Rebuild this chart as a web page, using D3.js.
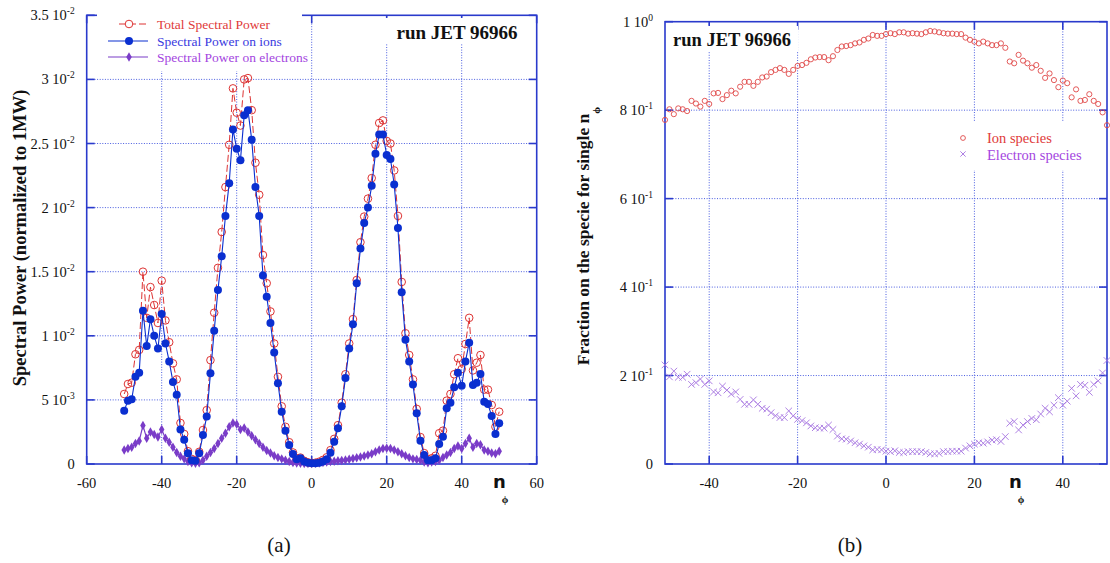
<!DOCTYPE html>
<html><head><meta charset="utf-8">
<script src="https://cdn.jsdelivr.net/npm/d3@7"></script>
<style>body{margin:0;background:#fff}text{font-family:"Liberation Serif","Times New Roman",serif}</style>
</head><body><svg id="c" width="1110" height="563"></svg>
<script>
// ---------- DATA ----------
const nPhi = d3.range(-50, 51);
// panel (a): spectral power, in units of 1e-3 (normalized to 1MW)
const totalPower = [5.46,6.24,6.34,8.56,8.9,15.0,11.4,13.8,12.4,11.0,14.3,11.2,9.5,7.85,6.6,3.2,2.34,1.0,0.4,0.3,0.95,2.65,4.2,8.1,11.8,15.3,18.1,21.6,24.9,29.3,27.4,26.4,30.0,30.1,27.6,23.5,21.0,16.3,14.1,11.9,9.4,6.8,4.5,2.9,1.7,0.9,0.45,0.5,0.25,0.13,0.08,0.1,0.18,0.32,0.52,1.08,1.96,3.03,4.78,7.0,9.4,11.3,14.35,17.3,19.3,20.7,22.3,24.9,26.6,26.8,25.2,25.0,22.9,19.35,14.2,10.2,8.5,6.6,4.3,2.1,0.85,0.4,0.45,0.64,2.4,2.6,4.94,5.46,7.0,8.25,7.4,9.36,11.4,7.3,7.9,8.5,5.8,5.8,4.6,2.9,4.08];
const ionPower = [4.16,4.94,5.05,6.81,7.12,11.96,9.2,11.3,10.0,9.0,11.7,9.4,8.0,6.4,5.4,2.7,1.9,0.83,0.3,0.25,0.83,2.26,3.7,7.07,10.4,13.57,16.2,19.35,21.9,26.1,24.6,23.7,27.2,27.6,25.3,21.6,19.35,14.7,13.05,11.0,8.7,6.3,4.08,2.6,1.48,0.78,0.37,0.44,0.2,0.1,0.05,0.05,0.1,0.2,0.37,0.88,1.74,2.78,4.5,6.7,9.0,10.9,14.1,16.8,18.8,20.0,21.7,24.2,25.7,25.7,24.1,23.8,21.8,18.4,13.4,9.7,8.0,6.2,3.95,1.82,0.7,0.3,0.3,0.44,1.56,2.13,4.34,4.78,5.98,7.12,6.1,8.0,9.46,6.16,6.34,7.02,4.86,4.68,3.74,2.34,3.17];
const elecPower = [1.1,1.2,1.3,1.6,1.8,3.0,2.0,2.5,2.3,2.1,2.7,2.0,1.7,1.3,0.9,0.6,0.4,0.2,0.1,0.05,0.1,0.3,0.6,0.9,1.2,1.6,2.0,2.4,2.9,3.2,3.1,2.7,2.8,2.5,2.2,1.9,1.6,1.3,1.05,0.85,0.65,0.5,0.4,0.3,0.2,0.12,0.08,0.05,0.04,0.03,0.03,0.05,0.08,0.12,0.15,0.2,0.22,0.25,0.28,0.32,0.37,0.42,0.48,0.55,0.62,0.7,0.8,0.95,1.1,1.2,1.22,1.2,1.1,0.95,0.8,0.65,0.5,0.4,0.35,0.3,0.15,0.1,0.15,0.2,0.3,0.5,0.7,0.9,1.2,1.4,1.2,1.6,2.0,1.3,1.6,1.5,1.1,1.0,0.85,0.8,1.0];
// panel (b): fraction on each species
const ionFraction = [0.778,0.802,0.791,0.804,0.802,0.798,0.821,0.815,0.808,0.821,0.814,0.838,0.839,0.825,0.834,0.844,0.838,0.853,0.864,0.864,0.855,0.864,0.874,0.876,0.886,0.891,0.895,0.891,0.882,0.891,0.9,0.902,0.907,0.915,0.919,0.92,0.92,0.913,0.922,0.936,0.944,0.945,0.947,0.951,0.953,0.959,0.962,0.97,0.968,0.968,0.972,0.974,0.972,0.976,0.976,0.973,0.974,0.973,0.972,0.976,0.979,0.978,0.976,0.974,0.973,0.973,0.972,0.972,0.964,0.959,0.955,0.951,0.955,0.951,0.947,0.947,0.951,0.941,0.91,0.906,0.925,0.912,0.906,0.896,0.902,0.889,0.873,0.883,0.868,0.852,0.867,0.861,0.829,0.847,0.821,0.823,0.836,0.821,0.814,0.795,0.766];
const elecFraction = [0.224,0.197,0.21,0.196,0.196,0.203,0.18,0.184,0.192,0.18,0.188,0.163,0.161,0.176,0.167,0.158,0.163,0.146,0.135,0.135,0.145,0.135,0.126,0.124,0.116,0.109,0.105,0.105,0.12,0.109,0.101,0.098,0.093,0.086,0.082,0.081,0.081,0.088,0.078,0.063,0.057,0.056,0.052,0.048,0.045,0.041,0.038,0.032,0.033,0.032,0.029,0.028,0.03,0.026,0.026,0.028,0.028,0.028,0.028,0.026,0.023,0.023,0.024,0.028,0.028,0.029,0.029,0.029,0.036,0.041,0.045,0.048,0.047,0.05,0.054,0.055,0.051,0.062,0.092,0.096,0.077,0.088,0.096,0.103,0.1,0.113,0.126,0.118,0.133,0.15,0.133,0.142,0.171,0.154,0.18,0.178,0.162,0.18,0.188,0.206,0.234];
// ticks
const xTicksA = [-60,-40,-20,0,20,40,60];
const yTicksA = [0,0.005,0.01,0.015,0.02,0.025,0.03,0.035];
const yLabelsA = [["0",""],["5 10","-3"],["1 10","-2"],["1.5 10","-2"],["2 10","-2"],["2.5 10","-2"],["3 10","-2"],["3.5 10","-2"]];
const xTicksB = [-40,-20,0,20,40];
const yTicksB = [0,0.2,0.4,0.6,0.8,1.0];
const yLabelsB = [["0",""],["2 10","-1"],["4 10","-1"],["6 10","-1"],["8 10","-1"],["1 10","0"]];
const legendA = ["Total Spectral Power","Spectral Power on ions","Spectral Power on electrons"];
const legendB = ["Ion species","Electron species"];

// ---------- DRAW ----------
const svg = d3.select("#c");
const AX = "#2a3acc", GRID = "#4a5de0";
const RED = "#dd3333", BLUE = "#0a2fd0", PURP = "#7a3cc8", LPURP = "#a573e0";

function panel(g, x, y, xTicks, yTicks, yLabels) {
  const [x0, x1] = x.range(), [y0, y1] = y.range();
  g.selectAll(".gx").data(xTicks.filter(t => x(t) > x0 + 1 && x(t) < x1 - 1)).join("line")
    .attr("x1", d => x(d)).attr("x2", d => x(d)).attr("y1", y0).attr("y2", y1)
    .attr("stroke", GRID).attr("stroke-width", 1).attr("stroke-dasharray", "1,1.6");
  g.selectAll(".gy").data(yTicks.filter(t => y(t) < y0 - 1 && y(t) > y1 + 1)).join("line")
    .attr("y1", d => y(d)).attr("y2", d => y(d)).attr("x1", x0).attr("x2", x1)
    .attr("stroke", GRID).attr("stroke-width", 1).attr("stroke-dasharray", "1,1.6");
  g.append("rect").attr("x", x0).attr("y", y1).attr("width", x1 - x0).attr("height", y0 - y1)
    .attr("fill", "none").attr("stroke", AX).attr("stroke-width", 1.6);
  const tl = 8;
  yTicks.forEach(t => {
    g.append("line").attr("x1", x0).attr("x2", x0 + tl).attr("y1", y(t)).attr("y2", y(t)).attr("stroke", AX).attr("stroke-width", 1.6);
    g.append("line").attr("x1", x1).attr("x2", x1 - tl).attr("y1", y(t)).attr("y2", y(t)).attr("stroke", AX).attr("stroke-width", 1.6);
  });
  xTicks.forEach(t => {
    g.append("line").attr("x1", x(t)).attr("x2", x(t)).attr("y1", y0).attr("y2", y0 - tl).attr("stroke", AX).attr("stroke-width", 1.6);
    g.append("line").attr("x1", x(t)).attr("x2", x(t)).attr("y1", y1).attr("y2", y1 + tl).attr("stroke", AX).attr("stroke-width", 1.6);
  });
  yTicks.forEach((t, i) => {
    const tx = g.append("text").attr("x", x0 - 12).attr("y", y(t) + 5).attr("text-anchor", "end")
      .attr("font-size", 14.5).attr("fill", "#111");
    tx.append("tspan").text(yLabels[i][0]);
    if (yLabels[i][1]) tx.append("tspan").attr("dy", -6).attr("font-size", 9.5).text(yLabels[i][1]);
  });
  xTicks.forEach(t => {
    g.append("text").attr("x", x(t)).attr("y", y0 + 24).attr("text-anchor", "middle")
      .attr("font-size", 14.5).attr("fill", "#111").text(t);
  });
}

function nphiLabel(g, xx, yy) {
  g.append("text").attr("x", xx).attr("y", yy).attr("font-size", 18).attr("font-weight", "bold")
    .style("font-family", "'DejaVu Sans',sans-serif").attr("fill", "#111").text("n");
  g.append("text").attr("x", xx + 12).attr("y", yy + 15).attr("font-size", 10.5).attr("font-weight", "bold")
    .attr("fill", "#111").attr("text-anchor", "middle").text("ϕ");
}

// ----- Panel (a) -----
const xA = d3.scaleLinear().domain([-60, 60]).range([86.7, 536.7]);
const yA = d3.scaleLinear().domain([0, 0.035]).range([464, 15.3]);
const gA = svg.append("g");
panel(gA, xA, yA, xTicksA, yTicksA, yLabelsA);
gA.append("rect").attr("x", 97).attr("y", 0).attr("width", 205).attr("height", 71).attr("fill", "#fff");
gA.append("rect").attr("x", 383).attr("y", 18).attr("width", 145).attr("height", 26).attr("fill", "#fff");
gA.append("text").attr("x", 457).attr("y", 39).attr("text-anchor", "middle").attr("font-size", 19)
  .attr("font-weight", "bold").attr("fill", "#111").text("run JET 96966");

const pts = a => nPhi.map((n, i) => [n, a[i] * 1e-3]);
const lineA = d3.line().x(d => xA(d[0])).y(d => yA(d[1]));
gA.append("path").attr("d", lineA(pts(elecPower))).attr("fill", "none").attr("stroke", PURP).attr("stroke-width", 1.2);
const diamond = d3.symbol().type(d3.symbolDiamond).size(26);
gA.selectAll(".de").data(pts(elecPower)).join("path").attr("d", diamond)
  .attr("transform", d => `translate(${xA(d[0])},${yA(d[1])})`).attr("fill", PURP);
gA.append("path").attr("d", lineA(pts(totalPower))).attr("fill", "none").attr("stroke", RED)
  .attr("stroke-width", 1).attr("stroke-dasharray", "7,3");
gA.selectAll(".ct").data(pts(totalPower)).join("circle").attr("cx", d => xA(d[0])).attr("cy", d => yA(d[1]))
  .attr("r", 3.8).attr("fill", "none").attr("stroke", RED).attr("stroke-width", 1);
gA.append("path").attr("d", lineA(pts(ionPower))).attr("fill", "none").attr("stroke", BLUE).attr("stroke-width", 1.1);
gA.selectAll(".ci").data(pts(ionPower)).join("circle").attr("cx", d => xA(d[0])).attr("cy", d => yA(d[1]))
  .attr("r", 4).attr("fill", BLUE);

// legend (a)
const legY = [24, 41, 57];
const legTxt = ["#e03a3a", "#3a3ae0", "#a445e0"];
gA.append("line").attr("x1", 117).attr("x2", 148).attr("y1", legY[0]).attr("y2", legY[0]).attr("stroke", RED).attr("stroke-dasharray", "7,3").attr("stroke-dashoffset", -2);
gA.append("circle").attr("cx", 129).attr("cy", legY[0]).attr("r", 3.8).attr("fill", "#fff").attr("stroke", RED);
gA.append("line").attr("x1", 108).attr("x2", 148).attr("y1", legY[1]).attr("y2", legY[1]).attr("stroke", BLUE).attr("stroke-width", 1.1);
gA.append("circle").attr("cx", 129).attr("cy", legY[1]).attr("r", 4).attr("fill", BLUE);
gA.append("line").attr("x1", 108).attr("x2", 148).attr("y1", legY[2]).attr("y2", legY[2]).attr("stroke", PURP).attr("stroke-width", 1.1);
gA.append("path").attr("d", diamond).attr("transform", `translate(129,${legY[2]})`).attr("fill", PURP);
legendA.forEach((t, i) => gA.append("text").attr("x", 157).attr("y", legY[i] + 4.5).attr("font-size", 13.5)
  .attr("fill", legTxt[i]).text(t));

gA.append("text").attr("transform", "translate(26,238) rotate(-90)").attr("text-anchor", "middle")
  .attr("font-size", 18.5).attr("font-weight", "bold").attr("fill", "#111").text("Spectral Power (normalized to 1MW)");
nphiLabel(gA, 493, 488);
svg.append("text").attr("x", 279).attr("y", 552).attr("text-anchor", "middle").attr("font-size", 21).attr("fill", "#111").text("(a)");

// ----- Panel (b) -----
const xB = d3.scaleLinear().domain([-50, 50]).range([665, 1107]);
const yB = d3.scaleLinear().domain([0, 1]).range([464, 21.7]);
const gB = svg.append("g");
panel(gB, xB, yB, xTicksB, yTicksB, yLabelsB);
gB.append("rect").attr("x", 668).attr("y", 26).attr("width", 130).attr("height", 26).attr("fill", "#fff");
gB.append("text").attr("x", 732).attr("y", 46).attr("text-anchor", "middle").attr("font-size", 18.5)
  .attr("font-weight", "bold").attr("fill", "#111").text("run JET 96966");
gB.append("rect").attr("x", 945).attr("y", 122).attr("width", 150).attr("height", 48).attr("fill", "#fff");

gB.selectAll(".ib").data(nPhi.map((n, i) => [n, ionFraction[i]])).join("circle")
  .attr("cx", d => xB(d[0])).attr("cy", d => yB(d[1])).attr("r", 2.6)
  .attr("fill", "none").attr("stroke", "#e04848").attr("stroke-width", 0.9);
const cross = d3.symbol().type(d3.symbolX).size(30);
gB.selectAll(".eb").data(nPhi.map((n, i) => [n, elecFraction[i]])).join("path").attr("d", cross)
  .attr("transform", d => `translate(${xB(d[0])},${yB(d[1])})`)
  .attr("fill", "none").attr("stroke", LPURP).attr("stroke-width", 0.9);
gB.append("circle").attr("cx", 963).attr("cy", 138).attr("r", 2.4).attr("fill", "none").attr("stroke", "#e04848").attr("stroke-width", 0.9);
gB.append("path").attr("d", d3.symbol().type(d3.symbolX).size(20)).attr("transform", "translate(963,154)")
  .attr("fill", "none").attr("stroke", LPURP).attr("stroke-width", 0.9);
gB.append("text").attr("x", 987).attr("y", 143).attr("font-size", 14.5).attr("fill", "#e03a3a").text(legendB[0]);
gB.append("text").attr("x", 987).attr("y", 159.5).attr("font-size", 14.5).attr("fill", "#a445e0").text(legendB[1]);
const yt = gB.append("text").attr("transform", "translate(589,236) rotate(-90)").attr("text-anchor", "middle")
  .attr("font-size", 17.5).attr("font-weight", "bold").attr("fill", "#111");
yt.append("tspan").text("Fraction on the specie for single n");
yt.append("tspan").attr("dy", 11).attr("font-size", 11).text("ϕ");
nphiLabel(gB, 1009, 488);
svg.append("text").attr("x", 850).attr("y", 552).attr("text-anchor", "middle").attr("font-size", 21).attr("fill", "#111").text("(b)");
</script></body></html>
